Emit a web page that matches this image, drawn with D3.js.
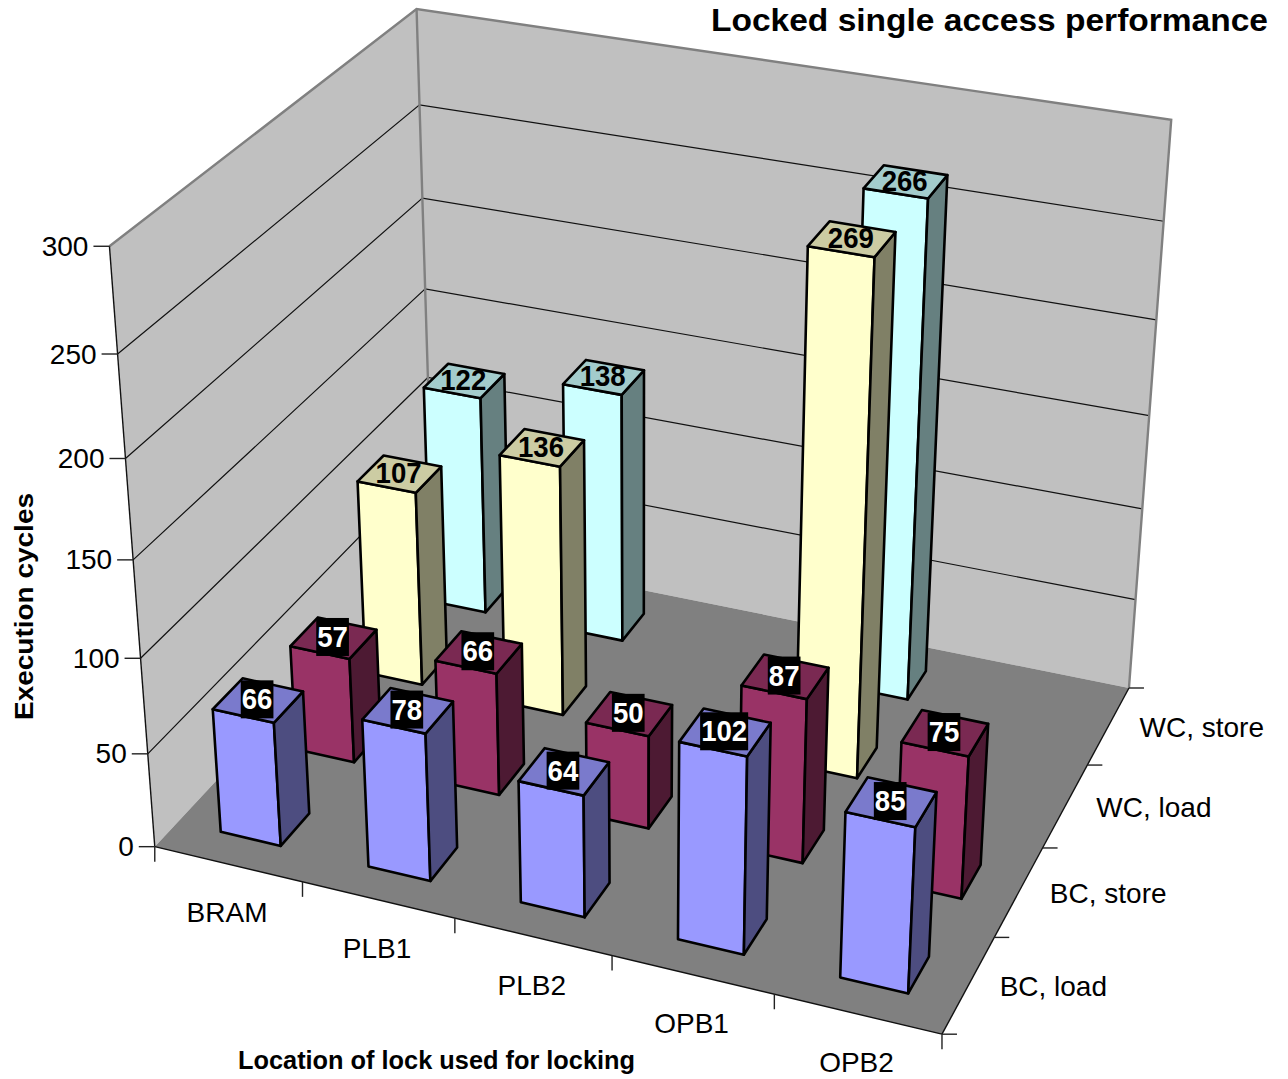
<!DOCTYPE html>
<html>
<head>
<meta charset="utf-8">
<title>Locked single access performance</title>
<script src="https://cdnjs.cloudflare.com/ajax/libs/d3/7.8.5/d3.min.js"></script>
<style>
  html,body{margin:0;padding:0;background:#fff}
  svg{display:block}
  text{font-family:"Liberation Sans",Arial,sans-serif;fill:#000}
</style>
</head>
<body>
<div id="chart"></div>
<script>
const categories=["BRAM","PLB1","PLB2","OPB1","OPB2"];
const seriesNames=["BC, load","BC, store","WC, load","WC, store"];
const bcLoad=[66,78,64,102,85];
const bcStore=[57,66,50,87,75];
const wcLoad=[107,136,null,269,null];
const wcStore=[122,138,null,266,null];
const valueTicks=[0,50,100,150,200,250,300];
const seriesValues=[bcLoad,bcStore,wcLoad,wcStore];
const seriesColors=["#9999ff","#993366","#ffffcc","#ccffff"];

const W=1288,H=1079;
const svg=d3.select("#chart").append("svg").attr("width",W).attr("height",H);

// corners of the chart box on screen: [u,v,w] -> [x,y]
// u runs along the categories, v runs front to back, w is height
const anchors=[
  [0,0,0,157,848],[1,0,0,941,1034],[1,1,0,1130,688],[0,1,0,431,547],
  [0,0,1,108,245],[0,1,1,418,10],[1,1,1,1171,120]
];

// least squares fit of a 3x4 projection, so perspective stays straight
function fitProjection(pts){
  const rows=[],rhs=[];
  pts.forEach(([u,v,w,x,y])=>{
    rows.push([u,v,w,1,0,0,0,0,-x*u,-x*v,-x*w]);rhs.push(x);
    rows.push([0,0,0,0,u,v,w,1,-y*u,-y*v,-y*w]);rhs.push(y);
  });
  const n=11,A=d3.range(n).map(i=>d3.range(n+1).map(j=>
    d3.sum(rows,(r,k)=>r[i]*(j<n?r[j]:rhs[k]))));
  for(let c=0;c<n;c++){
    let best=c;
    for(let r=c+1;r<n;r++) if(Math.abs(A[r][c])>Math.abs(A[best][c])) best=r;
    [A[c],A[best]]=[A[best],A[c]];
    for(let r=0;r<n;r++){
      if(r===c) continue;
      const f=A[r][c]/A[c][c];
      for(let k=c;k<=n;k++) A[r][k]-=f*A[c][k];
    }
  }
  return A.map((r,i)=>r[n]/r[i]);
}
const P=fitProjection(anchors);
const project=(u,v,w)=>{
  const d=P[8]*u+P[9]*v+P[10]*w+1;
  return [(P[0]*u+P[1]*v+P[2]*w+P[3])/d,(P[4]*u+P[5]*v+P[6]*w+P[7])/d];
};

// outer padding is about half the inner one so each bar sits in the middle of its cell
const xScale=d3.scaleBand().domain(categories).range([0,1]).paddingInner(.59).paddingOuter(.295);
const zScale=d3.scaleBand().domain(seriesNames).range([0,1]).paddingInner(.62).paddingOuter(.29);
const xEdge=d3.scaleBand().domain(categories).range([0,1]);
const zEdge=d3.scaleBand().domain(seriesNames).range([0,1]);
const yScale=d3.scaleLinear().domain([0,300]).range([0,1]);

const line=d3.line();
const poly=pts=>line(pts.map(p=>project(...p)))+"Z";
const seg=(a,b)=>line([project(...a),project(...b)]);

// walls and floor
svg.append("path").attr("d",poly([[0,0,0],[0,1,0],[0,1,1],[0,0,1]])).attr("fill","#c0c0c0");
svg.append("path").attr("d",poly([[0,1,0],[1,1,0],[1,1,1],[0,1,1]])).attr("fill","#c0c0c0");
svg.append("path").attr("d",poly([[0,0,0],[1,0,0],[1,1,0],[0,1,0]])).attr("fill","#808080");

// gridlines
valueTicks.slice(1,-1).forEach(t=>{
  const w=yScale(t);
  svg.append("path").attr("d",line([project(0,0,w),project(0,1,w),project(1,1,w)]))
    .attr("fill","none").attr("stroke","#111").attr("stroke-width",1.2);
});

// wall outline
svg.append("path").attr("d",line([project(0,0,1),project(0,1,1),project(1,1,1),project(1,1,0)]))
  .attr("fill","none").attr("stroke","#808080").attr("stroke-width",2.4);
svg.append("path").attr("d",seg([0,1,0],[0,1,1])).attr("stroke","#808080").attr("stroke-width",2.4);

// axis edges
[[[0,0,0],[0,0,1]],[[0,0,0],[1,0,0]],[[1,0,0],[1,1,0]]].forEach(([a,b])=>{
  svg.append("path").attr("d",seg(a,b)).attr("stroke","#111").attr("stroke-width",1.4);
});

// bars, back row first and left to right inside a row
const bars=[];
seriesNames.forEach((s,si)=>categories.forEach((c,ci)=>{
  const value=seriesValues[si][ci];
  if(value!=null) bars.push({s,c,si,ci,value});
}));
bars.sort((a,b)=>b.si-a.si||a.ci-b.ci);

const shade=(color,k)=>{
  const c=d3.rgb(color);
  return d3.rgb(c.r*k,c.g*k,c.b*k).formatHex();
};
const barG=svg.selectAll(".bar").data(bars).join("g").attr("class","bar");
const faces=d=>{
  const u0=xScale(d.c),u1=u0+xScale.bandwidth(),v0=zScale(d.s),v1=v0+zScale.bandwidth(),w=yScale(d.value);
  return [
    {pts:[[u0,v0,0],[u1,v0,0],[u1,v0,w],[u0,v0,w]],k:1},
    {pts:[[u1,v0,0],[u1,v1,0],[u1,v1,w],[u1,v0,w]],k:.5},
    {pts:[[u0,v0,w],[u1,v0,w],[u1,v1,w],[u0,v1,w]],k:.8}
  ].map(f=>({...f,color:seriesColors[d.si]}));
};
barG.selectAll("path").data(faces).join("path")
  .attr("d",f=>poly(f.pts)).attr("fill",f=>shade(f.color,f.k))
  .attr("stroke","#000").attr("stroke-width",2.6).attr("stroke-linejoin","round");

// data labels sit on the top face, the two front rows are inverted
barG.each(function(d){
  const g=d3.select(this);
  const [cx,cy]=project(xScale(d.c)+xScale.bandwidth()/2,zScale(d.s)+zScale.bandwidth()/2,yScale(d.value));
  const label=g.append("g").attr("transform",`translate(${cx-1},${cy-2})`);
  const inverted=d.si<2;
  const rect=inverted?label.append("rect").attr("fill","#000"):null;
  const t=label.append("text").attr("text-anchor","middle").attr("y",11)
    .attr("transform","scale(.92,1)")
    .attr("font-size",30).attr("font-weight",700).text(d.value)
    .style("fill",inverted?"#fff":"#000");
  if(rect){
    const tw=t.node().getComputedTextLength()*.92+2;
    rect.attr("x",-tw/2).attr("width",tw).attr("y",-18).attr("height",38);
  }
});

// value axis
valueTicks.forEach(t=>{
  const [x,y]=project(0,0,yScale(t));
  svg.append("line").attr("x1",x-16).attr("x2",x).attr("y1",y).attr("y2",y)
    .attr("stroke","#222").attr("stroke-width",1.4);
  svg.append("text").attr("x",x-21).attr("y",y+9.5).attr("text-anchor","end")
    .attr("font-size",28).text(t);
});

// category axis
d3.range(categories.length+1).forEach(i=>{
  const [x,y]=project(i/categories.length,0,0);
  svg.append("line").attr("x1",x).attr("x2",x).attr("y1",y).attr("y2",y+15)
    .attr("stroke","#222").attr("stroke-width",1.4);
});
categories.forEach(c=>{
  const [x,y]=project(xEdge(c)+xEdge.bandwidth()/2,0,0);
  svg.append("text").attr("x",x-1).attr("y",y+58).attr("text-anchor","middle")
    .attr("font-size",28).text(c);
});

// series axis
d3.range(seriesNames.length+1).forEach(i=>{
  const [x,y]=project(1,i/seriesNames.length,0);
  svg.append("line").attr("x1",x).attr("x2",x+15).attr("y1",y).attr("y2",y)
    .attr("stroke","#222").attr("stroke-width",1.4);
});
seriesNames.forEach(s=>{
  const [x,y]=project(1,zEdge(s)+zEdge.bandwidth()/2,0);
  svg.append("text").attr("x",x+31).attr("y",y+11).attr("font-size",28).text(s);
});

// titles
svg.append("text").attr("x",711).attr("y",31).attr("font-size",32).attr("font-weight",700)
  .attr("textLength",557).attr("lengthAdjust","spacingAndGlyphs").text("Locked single access performance");
svg.append("text").attr("x",238).attr("y",1069).attr("font-size",25).attr("font-weight",700)
  .attr("textLength",397).attr("lengthAdjust","spacingAndGlyphs").text("Location of lock used for locking");
svg.append("text").attr("transform","translate(33,720) rotate(-90)").attr("font-size",26).attr("font-weight",700)
  .attr("textLength",227).attr("lengthAdjust","spacingAndGlyphs").text("Execution cycles");
</script>
</body>
</html>
